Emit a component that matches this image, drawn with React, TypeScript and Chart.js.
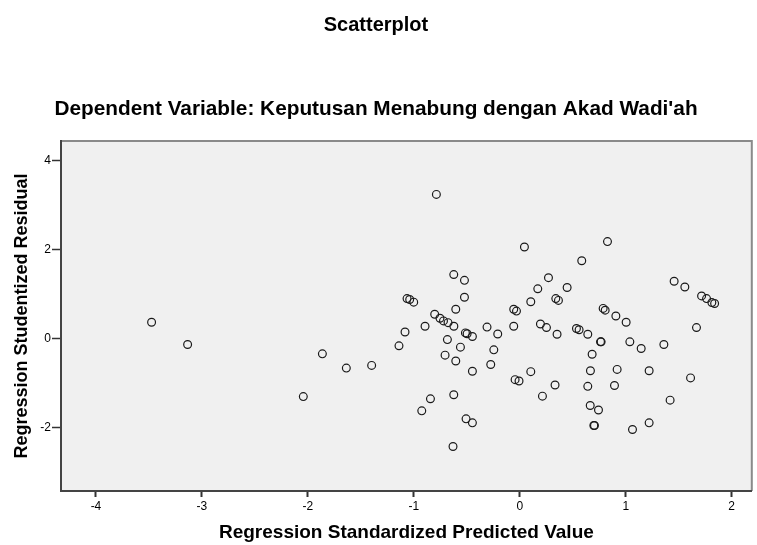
import React, { useEffect, useRef } from "react";
import { Chart, registerables } from "chart.js";

Chart.register(...registerables);

const chartTitle = "Scatterplot";
const chartSubtitle = "Dependent Variable: Keputusan Menabung dengan Akad Wadi'ah";
const xAxisTitle = "Regression Standardized Predicted Value";
const yAxisTitle = "Regression Studentized Residual";

const xValues = [
  -3.475, -3.135, -2.043, -1.863, -1.637, -1.398, -1.14, -1.083, -1.064, -1.039,
  -1.001, -0.925, -0.894, -0.843, -0.803, -0.787, -0.753, -0.72, -0.677, -0.622,
  -0.705, -0.683, -0.623, -0.623, -0.63, -0.604, -0.604, -0.56, -0.522, -0.522,
  -0.513, -0.497, -0.507, -0.447, -0.447, -0.447, -0.309, -0.274, -0.245, -0.208,
  -0.057, -0.031, -0.057, -0.044, -0.007, 0.044, 0.104, 0.104, 0.17, 0.195,
  0.214, 0.252, 0.271, 0.333, 0.34, 0.365, 0.352, 0.447, 0.535, 0.56,
  0.585, 0.642, 0.642, 0.665, 0.667, 0.683, 0.699, 0.705, 0.743, 0.762,
  0.768, 0.787, 0.806, 0.828, 0.894, 0.907, 0.919, 1.004, 1.039, 1.064,
  1.146, 1.221, 1.221, 1.36, 1.419, 1.457, 1.558, 1.612, 1.668, 1.716,
  1.763, 1.813, 1.839,
];

const yValues = [
  0.37, -0.13, -1.3, -0.34, -0.66, -0.6, -0.16, 0.15, 0.9, 0.88,
  0.82, -1.62, 0.28, -1.35, 0.55, 3.24, 0.46, 0.4, 0.36, 0.28,
  -0.37, -0.02, 1.44, -1.26, -2.42, 0.66, -0.5, -0.19, 1.31, 0.93,
  0.13, 0.11, -1.8, 0.05, -0.73, -1.89, 0.26, -0.58, -0.25, 0.105,
  0.66, 0.62, 0.28, -0.92, -0.95, 2.06, 0.83, -0.74, 1.12, 0.33,
  -1.29, 0.25, 1.37, -1.04, 0.9, 0.86, 0.1, 1.15, 0.23, 0.2,
  1.75, 0.1, -1.07, -1.5, -0.72, -0.35, -1.95, -1.95, -1.6, -0.07,
  -0.07, 0.68, 0.64, 2.18, -1.05, 0.51, -0.69, 0.37, -0.07, -2.04,
  -0.22, -0.72, -1.89, -0.13, -1.38, 1.29, 1.16, -0.88, 0.25, 0.96,
  0.9, 0.81, 0.79,
];

const xMin = -4.33;
const xMax = 2.19;
const yMin = -3.42;
const yMax = 4.44;

const FONT = "'Liberation Sans', Arial, sans-serif";

const plotFrame = {
  id: "plotFrame",
  beforeDraw(chart: any) {
    const { ctx, chartArea } = chart;
    const { left, top, right, bottom } = chartArea;
    ctx.save();
    ctx.fillStyle = "#f0f0f0";
    ctx.fillRect(left, top, right - left, bottom - top);
    ctx.strokeStyle = "#8a8a8a";
    ctx.lineWidth = 2;
    ctx.beginPath();
    ctx.moveTo(left, top);
    ctx.lineTo(right, top);
    ctx.lineTo(right, bottom);
    ctx.stroke();
    ctx.restore();
  },
};

export default function App() {
  const canvasRef = useRef<HTMLCanvasElement | null>(null);

  useEffect(() => {
    if (!canvasRef.current) return;
    const points = xValues.map((x, i) => ({ x, y: yValues[i] }));
    const chart = new Chart(canvasRef.current, {
      type: "scatter",
      data: {
        datasets: [
          {
            data: points,
            pointStyle: "circle",
            pointRadius: 3.9,
            pointBorderWidth: 1.2,
            pointBorderColor: "#1a1a1a",
            pointBackgroundColor: "rgba(0,0,0,0)",
          },
        ],
      },
      options: {
        responsive: false,
        animation: false,
        layout: { padding: { left: 0, right: 5, top: 0, bottom: 0 } },
        plugins: {
          legend: { display: false },
          tooltip: { enabled: false },
          title: {
            display: true,
            text: chartTitle,
            color: "#000",
            font: { family: FONT, size: 20, weight: "bold" },
            padding: { top: 13, bottom: 60 },
          },
          subtitle: {
            display: true,
            text: chartSubtitle,
            color: "#000",
            font: { family: FONT, size: 20.8, weight: "bold" },
            padding: { top: 0, bottom: 19 },
          },
        },
        scales: {
          x: {
            type: "linear",
            min: xMin,
            max: xMax,
            afterFit(scale: any) {
              scale.height = 54;
            },
            ticks: {
              stepSize: 1,
              includeBounds: false,
              color: "#000",
              padding: 2,
              font: { family: FONT, size: 12 },
            },
            grid: {
              drawOnChartArea: false,
              drawTicks: true,
              tickLength: 6,
              color: "#333",
              tickWidth: 2,
            },
            border: { display: true, color: "#444", width: 2 },
            title: {
              display: true,
              text: xAxisTitle,
              color: "#000",
              font: { family: FONT, size: 19, weight: "bold" },
              padding: { top: 0, bottom: 1 },
            },
          },
          y: {
            type: "linear",
            min: yMin,
            max: yMax,
            afterFit(scale: any) {
              scale.width = 61;
            },
            ticks: {
              stepSize: 2,
              includeBounds: false,
              color: "#000",
              padding: 1,
              font: { family: FONT, size: 12 },
            },
            grid: {
              drawOnChartArea: false,
              drawTicks: true,
              tickLength: 9,
              color: "#333",
              tickWidth: 1.5,
            },
            border: { display: true, color: "#444", width: 2 },
            title: {
              display: true,
              text: yAxisTitle,
              color: "#000",
              font: { family: FONT, size: 18, weight: "bold" },
              padding: { top: 11, bottom: 0 },
            },
          },
        },
      },
      plugins: [plotFrame],
    });
    return () => chart.destroy();
  }, []);

  return (
    <div style={{ position: "fixed", left: 0, top: 0, width: 757, height: 545, background: "#fff" }}>
      <canvas ref={canvasRef} width={757} height={545} />
    </div>
  );
}
